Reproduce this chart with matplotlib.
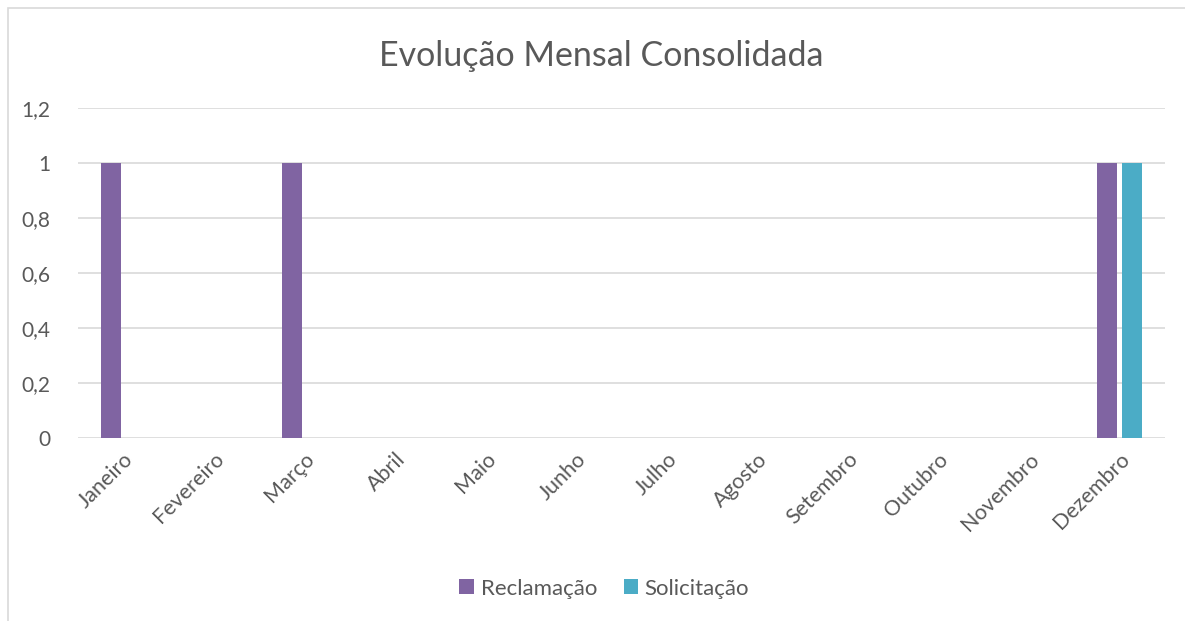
import numpy as np
import matplotlib.pyplot as plt
from matplotlib.patches import Rectangle

meses = ["Janeiro", "Fevereiro", "Março", "Abril", "Maio", "Junho", "Julho",
         "Agosto", "Setembro", "Outubro", "Novembro", "Dezembro"]
reclamacao = [1, 0, 1, 0, 0, 0, 0, 0, 0, 0, 0, 1]
solicitacao = [0, 0, 0, 0, 0, 0, 0, 0, 0, 0, 0, 1]
yticks = [0, 0.2, 0.4, 0.6, 0.8, 1, 1.2]
ytick_labels = ["0", "0,2", "0,4", "0,6", "0,8", "1", "1,2"]

plt.rcParams['font.family'] = ['Lato', 'DejaVu Sans']
cinza = "#595959"

fig = plt.figure(figsize=(11.85, 6.21), dpi=100)
ax = fig.add_axes([0.0658, 0.2947, 0.917, 0.5313])

# borda do grafico
fig.patches.append(Rectangle((8 / 1185, -0.1), 1.1, 0.1 + (1 - 8 / 621),
                             transform=fig.transFigure, fill=False,
                             edgecolor="#D9D9D9", linewidth=1.2))

x = np.arange(len(meses))
largura = 0.22
ax.bar(x - 0.138, reclamacao, largura, color="#8064A2", label="Reclamação", zorder=3)
ax.bar(x + 0.138, solicitacao, largura, color="#4BACC6", label="Solicitação", zorder=3)

ax.set_xlim(-0.5, len(meses) - 0.5)
ax.set_ylim(0, 1.2)
ax.set_yticks(yticks)
ax.set_yticklabels(ytick_labels, fontsize=15, color=cinza)
ax.set_xticks(x)
ax.set_xticklabels(meses, rotation=45, ha="right", rotation_mode="anchor",
                   fontsize=15.5, color=cinza)
ax.tick_params(axis="y", length=0, pad=20)
ax.tick_params(axis="x", length=0, pad=8)
ax.yaxis.grid(True, color="#D9D9D9", linewidth=1.2, zorder=0)
for s in ax.spines.values():
    s.set_visible(False)

fig.text(0.507, 0.91, "Evolução Mensal Consolidada", ha="center", va="center",
         fontsize=24.5, color=cinza)

fig.legend(loc="center", bbox_to_anchor=(0.51, 0.052), ncol=2, frameon=False,
           fontsize=16, labelcolor=cinza, handlelength=0.65, handleheight=0.65,
           columnspacing=1.2, handletextpad=0.3)

fig.savefig("out.png")
